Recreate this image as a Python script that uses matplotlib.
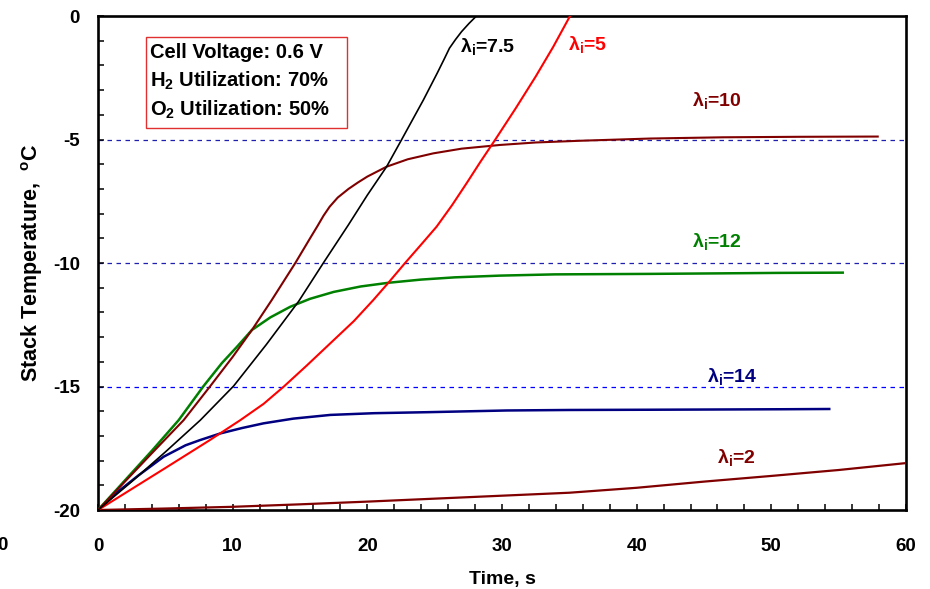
import matplotlib
matplotlib.use("Agg")
import matplotlib.pyplot as plt
from matplotlib.patches import Rectangle
from matplotlib.ticker import MultipleLocator

plt.rcParams['font.family'] = ['Liberation Sans', 'DejaVu Sans']
plt.rcParams['mathtext.default'] = 'regular'
plt.rcParams['axes.unicode_minus'] = False

# Stack temperature (deg C) vs. time (s) for several initial stoichiometries
t_l2 = [0, 5, 10, 15, 20, 25, 30, 35, 40, 45, 50, 55, 60]
T_l2 = [-20, -19.94, -19.87, -19.77, -19.66, -19.54, -19.42, -19.3, -19.1, -18.85, -18.62, -18.38, -18.1]

t_l5 = [0, 2.5, 5, 8.3, 10.57, 12.3, 13.8, 15.5, 17.25, 19.0, 20.44, 21.56, 22.8, 24.0, 25.14,
        26.3, 27.37, 28.4, 29.48, 31.0, 32.5, 33.8, 35.05]
T_l5 = [-20, -19.15, -18.3, -17.17, -16.36, -15.7, -15.0, -14.15, -13.25, -12.35, -11.5, -10.8,
        -10.0, -9.25, -8.53, -7.65, -6.77, -5.9, -5.02, -3.75, -2.45, -1.25, 0.0]

t_l75 = [0, 2.5, 5, 7.6, 10.07, 12.5, 14.9, 16.73, 18.6, 20.0, 21.43, 22.55, 24.16, 25.2,
         25.7, 26.1, 26.55, 27.0, 27.55, 28.1]
T_l75 = [-20, -18.85, -17.65, -16.36, -14.98, -13.3, -11.55, -10.0, -8.45, -7.25, -6.1, -5.0,
         -3.4, -2.3, -1.75, -1.3, -0.95, -0.63, -0.3, 0.0]

t_l10 = [0, 2, 4, 6.36, 8.34, 10, 11.43, 12.9, 14.65, 15.8, 16.3, 16.75, 17.2, 17.8, 18.6,
         19.3, 20, 21.43, 23, 24.9, 27, 29.85, 32.5, 35.8, 41, 46.4, 52, 57.9]
T_l10 = [-20, -18.85, -17.7, -16.36, -14.98, -13.8, -12.71, -11.5, -10.0, -8.95, -8.5, -8.08,
         -7.72, -7.35, -7.0, -6.74, -6.5, -6.1, -5.8, -5.56, -5.37, -5.22, -5.12, -5.05, -4.96,
         -4.91, -4.89, -4.88]

t_l12 = [0, 2, 4, 5.99, 7.84, 9.2, 10.32, 11.43, 12.8, 14.28, 15.74, 17.5, 19.5, 21.56, 24,
         26.5, 29.85, 33.9, 41, 45.9, 50.5, 55.3]
T_l12 = [-20, -18.8, -17.6, -16.36, -14.98, -14.05, -13.39, -12.71, -12.2, -11.77, -11.45,
         -11.17, -10.95, -10.8, -10.67, -10.58, -10.51, -10.46, -10.44, -10.42, -10.4, -10.39]

t_l14 = [0, 1.5, 3, 4.88, 6.5, 7.57, 9.08, 10.7, 12.3, 14.5, 17.25, 20.5, 24.4, 30.35, 35, 41,
         46, 50.9, 54.3]
T_l14 = [-20, -19.25, -18.6, -17.84, -17.38, -17.17, -16.9, -16.68, -16.49, -16.3, -16.15,
         -16.08, -16.04, -15.97, -15.95, -15.94, -15.93, -15.92, -15.91]

ref_levels = [-5, -10, -15]
ref_colors = ['#1f1fb0', '#1f1fb0', '#0000ff']

labels = ['λ$_{i}$=7.5', 'λ$_{i}$=5', 'λ$_{i}$=10', 'λ$_{i}$=12', 'λ$_{i}$=14', 'λ$_{i}$=2']
label_pos = [(26.9, -1.46), (34.9, -1.38), (44.1, -3.64), (44.1, -9.34), (45.2, -14.8), (46.0, -18.11)]
label_colors = ['black', '#ff0000', '#800000', '#008000', '#000080', '#800000']

fig = plt.figure(figsize=(9.3, 5.89), dpi=100)
ax = fig.add_axes([0.1054, 0.1341, 0.8688, 0.8387])

for lev, c in zip(ref_levels, ref_colors):
    ax.axhline(lev, color=c, lw=0.9, linestyle=(0, (3.6, 3.6)), zorder=1)

ax.plot(t_l2, T_l2, color='#800000', lw=1.6, zorder=3)
ax.plot(t_l14, T_l14, color='#000080', lw=1.8, zorder=3)
ax.plot(t_l12, T_l12, color='#008000', lw=1.8, zorder=3)
ax.plot(t_l10, T_l10, color='#800000', lw=1.5, zorder=3)
ax.plot(t_l5, T_l5, color='#ff0000', lw=1.5, zorder=3)
ax.plot(t_l75, T_l75, color='black', lw=1.2, zorder=4)

for txt, (x, y), c in zip(labels, label_pos, label_colors):
    ax.text(x, y, txt, color=c, fontsize=14, fontweight='bold', ha='left', va='baseline')

ax.set_xlim(0, 60)
ax.set_ylim(-20, 0)
ax.xaxis.set_major_locator(MultipleLocator(10))
ax.xaxis.set_minor_locator(MultipleLocator(2))
ax.yaxis.set_major_locator(MultipleLocator(5))
ax.yaxis.set_minor_locator(MultipleLocator(1))
ax.tick_params(which='both', direction='in', width=1.1, length=4.5)
ax.tick_params(axis='x', which='major', pad=20, labelsize=13.5)
ax.tick_params(axis='y', which='major', pad=13, labelsize=13.5)
for lbl in ax.get_xticklabels() + ax.get_yticklabels():
    lbl.set_fontweight('bold')
for s in ax.spines.values():
    s.set_linewidth(1.9)

ax.set_xlabel('Time, s', fontsize=14, fontweight='bold', labelpad=12)
ax.set_ylabel('Stack Temperature,  $^{o}$C', fontsize=15.5, fontweight='bold', labelpad=6)

# Operating conditions box
fig.add_artist(Rectangle((146 / 930, 1 - 128 / 589), (347 - 146) / 930, (128 - 37) / 589,
                         transform=fig.transFigure, fill=False, ec='#e03030', lw=1.0))
box_lines = ['Cell Voltage: 0.6 V', 'H$_{2}$ Utilization: 70%', 'O$_{2}$ Utilization: 50%']
for i, line in enumerate(box_lines):
    fig.text(150 / 930, 1 - (58 + 29 * i) / 589, line, fontsize=14.5, fontweight='bold',
             ha='left', va='baseline')

# stray tick label at the left border
fig.text(2 / 930, 1 - 550 / 589, '0', fontsize=13.5, fontweight='bold', ha='center', va='baseline')

fig.savefig('out.png', dpi=100)
